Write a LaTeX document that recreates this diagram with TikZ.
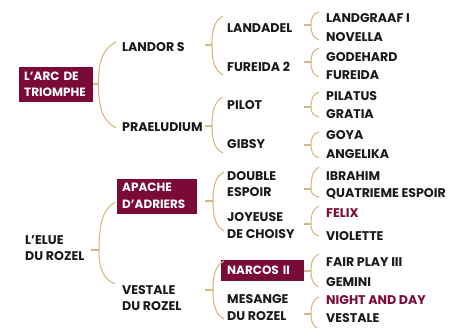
\documentclass[tikz,border=0pt]{standalone}
\usepackage{fontspec}
\setmainfont{Poppins}[BoldFont={Poppins Bold}]
\definecolor{maroon}{HTML}{7A0A36}
\definecolor{tan}{HTML}{D6B886}
\definecolor{ink}{HTML}{1A1A1A}
\tikzset{
  lbl/.style={anchor=west, inner sep=0pt, align=left, text=ink, font=\fontsize{12.6}{16.5}\selectfont\bfseries},
  red/.style={lbl, text=maroon},
  box/.style={anchor=west, fill=maroon, text=white, inner xsep=5pt, inner ysep=0pt, align=left, font=\fontsize{12}{16.5}\selectfont\bfseries},
  brk/.style={draw=tan, line width=1.1pt}
}
% \brkt{xs}{xl}{ym}{yt}{yb}{xt}
\newcommand\brkt[6]{%
  \draw[brk] (#1,#3) -- (#2,#3);
  \draw[brk] (#6,#4) .. controls ({#2+0.3*(#6-#2)},{#4+0.15*(#3-#4)}) and (#2,{#3-0.6*(#3-#4)}) .. (#2,#3)
    .. controls (#2,{#3+0.6*(#5-#3)}) and ({#2+0.3*(#6-#2)},{#5-0.15*(#5-#3)}) .. (#6,#5);
}
\begin{document}
\begin{tikzpicture}[x=1pt,y=-1pt]
\useasboundingbox (0,0) rectangle (449,327);
% level 0
\node[box, text width=64pt, minimum height=35pt] (arc) at (19,84.5) {L’ARC DE\\TRIOMPHE};
\node[lbl] (elue) at (25,248) {L’ELUE\\DU ROZEL};
% level 1
\node[lbl] (landor) at (122,47) {LANDOR S};
\node[lbl] (prae) at (122,127) {PRAELUDIUM};
\node[box, text width=70pt, minimum height=35pt] (apache) at (117,196) {APACHE\\D’ADRIERS};
\node[lbl] (vestale) at (122,298) {VESTALE\\DU ROZEL};
% level 2
\node[lbl] (landadel) at (227,28) {LANDADEL};
\node[lbl] (fureida2) at (227,67) {FUREIDA 2};
\node[lbl] (pilot) at (227,105) {PILOT};
\node[lbl] (gibsy) at (227,144) {GIBSY};
\node[lbl] (double) at (227,184) {DOUBLE\\ESPOIR};
\node[lbl] (joyeuse) at (227,225.5) {JOYEUSE\\DE CHOISY};
\node[box, inner xsep=6pt, text width=71pt, minimum height=21pt] (narcos) at (221,270) {NARCOS II};
\node[lbl] (mesange) at (227,307.5) {MESANGE\\DU ROZEL};
% level 3
\node[lbl] (landgraaf) at (326,18) {LANDGRAAF I};
\node[lbl] (novella) at (326,37) {NOVELLA};
\node[lbl] (godehard) at (326,57) {GODEHARD};
\node[lbl] (fureida) at (326,75) {FUREIDA};
\node[lbl] (pilatus) at (326,96) {PILATUS};
\node[lbl] (gratia) at (326,114) {GRATIA};
\node[lbl] (goya) at (326,135) {GOYA};
\node[lbl] (angelika) at (326,154) {ANGELIKA};
\node[lbl] (ibrahim) at (326,176) {IBRAHIM};
\node[lbl] (quatrieme) at (326,194) {QUATRIEME ESPOIR};
\node[red] (felix) at (326,213) {FELIX};
\node[lbl] (violette) at (326,236) {VIOLETTE};
\node[lbl] (fairplay) at (326,262) {FAIR PLAY III};
\node[lbl] (gemini) at (326,282) {GEMINI};
\node[red] (night) at (326,300.5) {NIGHT AND DAY};
\node[lbl] (vestale2) at (326,318.5) {VESTALE};
% brackets level 0 -> 1
\brkt{93}{98.5}{84}{42}{128}{116}
\brkt{91}{99}{250}{202}{284}{115}
% level 1 -> 2
\brkt{205}{212}{45}{16}{75}{223}
\brkt{205}{212}{126}{97}{153}{223}
\brkt{205}{213}{201}{172}{231}{224}
\brkt{205}{213}{290}{261}{319}{224}
% level 2 -> 3
\brkt{304}{311}{25}{12}{40}{319}
\brkt{304}{311}{62}{48}{77}{319}
\brkt{304}{311}{107}{92}{117}{319}
\brkt{304}{311}{145}{132}{158}{319}
\brkt{304}{311}{189}{167}{197}{319}
\brkt{304}{311}{224}{206}{236}{319}
\brkt{304}{311}{271}{254}{287}{319}
\brkt{304}{311}{314}{297}{329}{319}
\end{tikzpicture}
\end{document}
